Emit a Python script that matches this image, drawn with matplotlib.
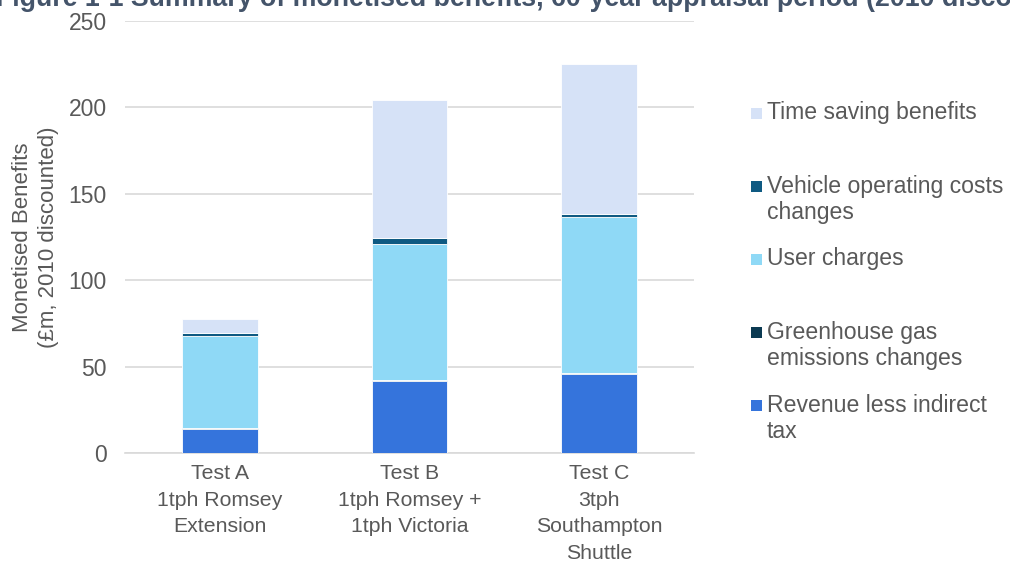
import matplotlib
matplotlib.use("Agg")
import matplotlib.pyplot as plt
from matplotlib.patches import Rectangle
import numpy as np

plt.rcParams['font.family'] = ['Liberation Sans', 'DejaVu Sans']

categories = ["Test A\n1tph Romsey\nExtension", "Test B\n1tph Romsey +\n1tph Victoria", "Test C\n3tph\nSouthampton\nShuttle"]
series_names = ["Revenue less indirect\ntax", "Greenhouse gas\nemissions changes", "User charges",
                "Vehicle operating costs\nchanges", "Time saving benefits"]
revenue = [13.7, 41.7, 45.5]
ghg = [0.5, 0.5, 1.0]
user_charges = [53.5, 78.8, 90.3]
voc = [1.6, 3.4, 1.5]
time_saving = [8.1, 80.1, 86.7]
colors = ["#3574DC", "#0B3A52", "#8FD9F6", "#0F5A82", "#D6E2F7"]
yticks = [0, 50, 100, 150, 200, 250]

W, H = 1010, 564
fig = plt.figure(figsize=(W/100, H/100), dpi=100)
ax = fig.add_axes([125/W, 1-453/H, (694-125)/W, (453-21)/H])

x = np.arange(len(categories))
bottom = np.zeros(len(categories))
for vals, c in zip([revenue, ghg, user_charges, voc, time_saving], colors):
    ax.bar(x, vals, width=0.4, bottom=bottom, color=c, edgecolor='white', linewidth=0.6, zorder=3)
    bottom += np.array(vals)

ax.set_xlim(-0.5, 2.5)
ax.set_ylim(0, 250)
ax.set_yticks(yticks)
ax.set_yticklabels([str(t) for t in yticks], fontsize=16.5, color='#595959')
ax.yaxis.grid(True, color='#D9D9D9', linewidth=1.2, zorder=0)
ax.set_xticks(x)
ax.set_xticklabels(categories, fontsize=15.3, color='#595959', linespacing=1.51, va='top')
ax.tick_params(axis='both', length=0)
ax.tick_params(axis='x', pad=8)
ax.tick_params(axis='y', pad=13)
for s in ['top', 'right', 'left']:
    ax.spines[s].set_visible(False)
ax.spines['bottom'].set_color('#D9D9D9')
ax.spines['bottom'].set_linewidth(1.2)
ax.set_ylabel("Monetised Benefits\n(£m, 2010 discounted)", fontsize=16, color='#595959', labelpad=7, linespacing=1.3)

# legend (manual, Excel style)
leg_labels = series_names[::-1]
leg_colors = colors[::-1]
y0 = 113
for i, (lab, c) in enumerate(zip(leg_labels, leg_colors)):
    yc = y0 + i*73
    fig.patches.append(Rectangle((751/W, 1-(yc+6)/H), 11/W, 11/H, transform=fig.transFigure,
                                 facecolor=c, edgecolor='none'))
    fig.text(767/W, 1-(yc-11.5)/H, lab, fontsize=16.6, color='#595959', va='top', ha='left', linespacing=1.22)

fig.text(-4/W, 1-6/H, "Figure 1-1 Summary of monetised benefits, 60-year appraisal period (2010 discounted)",
         fontsize=19.3, fontweight='bold', color='#44546A', ha='left', va='baseline')

fig.savefig("out.png", dpi=100)
